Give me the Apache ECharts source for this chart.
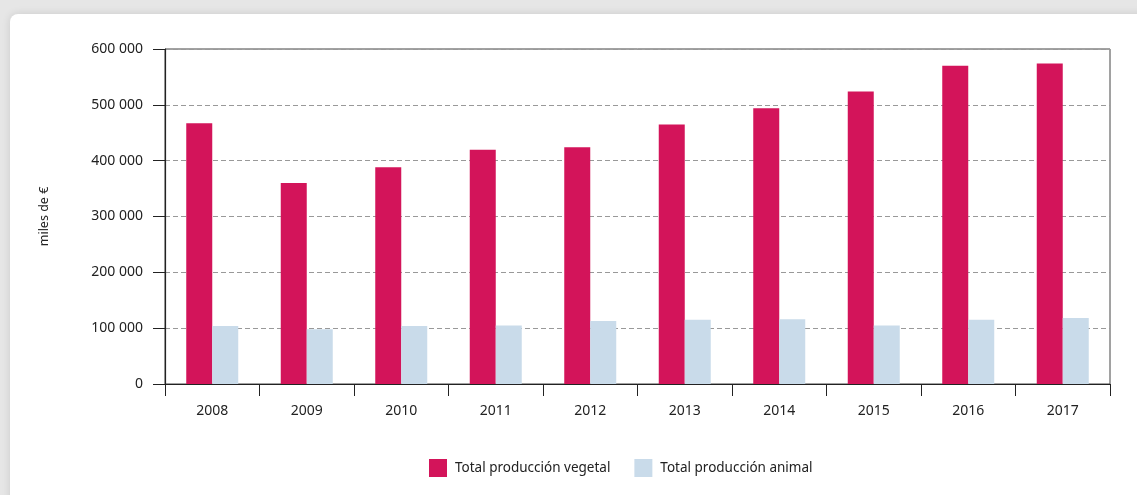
<!DOCTYPE html>
<html>
<head>
<meta charset="utf-8">
<script src="https://cdn.jsdelivr.net/npm/echarts@6/dist/echarts.min.js"></script>
<style>
html,body{margin:0;padding:0;background:#e6e6e6;}
#c{width:1137px;height:495px;}
</style>
</head>
<body>
<div id="c"></div>
<script>
const categories = ['2008','2009','2010','2011','2012','2013','2014','2015','2016','2017'];
const vegetal = [467000, 360000, 388000, 419500, 424000, 465000, 494000, 524000, 570000, 574000];
const animal  = [104000, 98000, 104000, 105000, 113000, 115000, 116000, 105000, 115000, 118000];
const seriesNames = ['Total producción vegetal', 'Total producción animal'];
const yAxisName = 'miles de €';

const FONT = '"Noto Sans", sans-serif';
const chart = echarts.init(document.getElementById('c'));
chart.setOption({
  animation: false,
  backgroundColor: '#e6e6e6',
  graphic: [{
    type: 'rect', z: -10,
    shape: {x: 10, y: 14, width: 1160, height: 500, r: 8},
    style: {fill: '#ffffff', shadowBlur: 8, shadowColor: 'rgba(0,0,0,0.12)'}
  }],
  grid: {left: 165, right: 27, top: 49, bottom: 111, show: true, borderColor: '#444', borderWidth: 1, backgroundColor: 'transparent'},
  legend: {
    top: 454, left: 424, itemWidth: 18, itemHeight: 18, itemGap: 24,
    icon: 'rect',
    textStyle: {fontFamily: FONT, fontSize: 13.5, color: '#222', padding: [0, 0, 0, 3]},
    data: seriesNames
  },
  xAxis: {
    type: 'category', data: categories,
    axisLine: {lineStyle: {color: '#222', width: 1.2}},
    axisTick: {show: true, length: 12, lineStyle: {color: '#222'}},
    axisLabel: {fontFamily: FONT, fontSize: 14, color: '#222', margin: 20}
  },
  yAxis: {
    type: 'value', min: 0, max: 600000, interval: 100000,
    name: yAxisName, nameLocation: 'middle', nameRotate: 90, nameGap: 114,
    nameTextStyle: {fontFamily: FONT, fontSize: 12.5, color: '#222'},
    axisLine: {show: true, lineStyle: {color: '#222', width: 1.2}},
    axisTick: {show: true, length: 12, lineStyle: {color: '#222'}},
    axisLabel: {fontFamily: FONT, fontSize: 14, color: '#222', margin: 22,
      formatter: v => String(v).replace(/\B(?=(\d{3})+(?!\d))/g, ' ')},
    splitLine: {lineStyle: {color: '#999', type: [5, 3], width: 1}}
  },
  series: [
    {name: seriesNames[0], type: 'bar', data: vegetal, barWidth: 26, barGap: '0%',
     itemStyle: {color: '#d3145a'}},
    {name: seriesNames[1], type: 'bar', data: animal, barWidth: 26,
     itemStyle: {color: '#c9dbea'}}
  ]
});
</script>
</body>
</html>
